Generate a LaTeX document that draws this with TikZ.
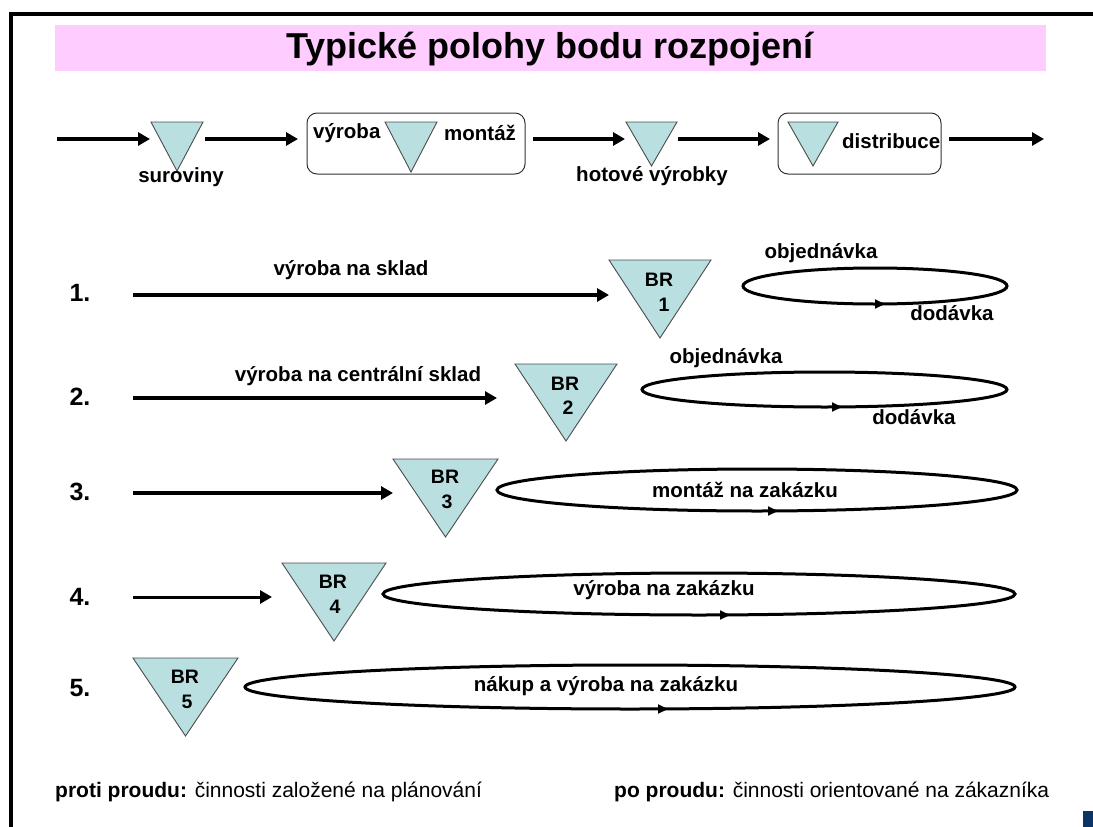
\documentclass[tikz,border=0pt]{standalone}
\usepackage{fontspec}
\setmainfont{Liberation Sans}
\usetikzlibrary{arrows.meta}

\definecolor{titlepink}{RGB}{255,204,255}
\definecolor{brfill}{RGB}{185,223,224}
\definecolor{cornerblue}{RGB}{12,52,100}

\tikzset{
  flow/.style={line width=4pt,-{Triangle[length=12pt,width=13pt]}},
  thinflow/.style={line width=3pt,-{Triangle[length=12pt,width=13pt]}},
  brtri/.style={fill=brfill,draw=black!70,line width=0.9pt,line join=miter},
  stagebox/.style={draw=black!80,line width=1pt,rounded corners=10pt},
  loopline/.style={line width=3pt},
  looptip/.style={line width=2pt,-{Triangle[length=10pt,width=9pt]}},
  lbl/.style={font=\fontsize{20.5}{24}\selectfont\bfseries,inner sep=0pt},
  brlbl/.style={font=\fontsize{19.5}{22}\selectfont\bfseries,inner sep=0pt},
  rownum/.style={font=\fontsize{25}{28}\selectfont\bfseries,inner sep=0pt}
}

% triangle: left x, top y, right x, apex y
\newcommand\brtriangle[4]{%
  \filldraw[brtri] (#1,#2) -- (#3,#2) -- ({(#1+#3)/2},#4) -- cycle;}
% loop: centre x, centre y, x radius, y radius, tip x
\newcommand\orderloop[5]{%
  \draw[loopline] (#1,#2) ellipse (#3pt and #4pt);
  \draw[looptip] ({#5-6},{#2+#4}) -- (#5,{#2+#4});}

\begin{document}
\begin{tikzpicture}[x=1pt,y=-1pt,line cap=butt]
  \useasboundingbox (0,0) rectangle (1093,827);
  % frame and title
  \draw[line width=4pt] (10.5,827) -- (10.5,13.5) -- (1093,13.5);
  \fill[cornerblue] (1083,811) rectangle (1093,827);
  \fill[titlepink] (55,25) rectangle (1046,71);
  \node[font=\fontsize{36}{40}\selectfont\bfseries,anchor=base,inner sep=0pt]
    (title) at (550,58) {Typické polohy bodu rozpojení};

  % chain on top
  \brtriangle{151}{122}{203}{171}
  \draw[stagebox] (307,113) rectangle (525,174);
  \brtriangle{385}{122}{437}{172}
  \brtriangle{626}{122}{677}{166}
  \draw[stagebox] (778,113) rectangle (941,174);
  \brtriangle{788}{122}{838}{166}
  \coordinate (c0) at (57,139);   \coordinate (c1) at (150,139);
  \coordinate (c2) at (205,139);  \coordinate (c3) at (298,139);
  \coordinate (c4) at (533,139);  \coordinate (c5) at (625,139);
  \coordinate (c6) at (678,139);  \coordinate (c7) at (770,139);
  \coordinate (c8) at (949,139);  \coordinate (c9) at (1044,139);
  \draw[flow] (c0) -- (c1);
  \draw[flow] (c2) -- (c3);
  \draw[flow] (c4) -- (c5);
  \draw[flow] (c6) -- (c7);
  \draw[flow] (c8) -- (c9);
  \node[lbl] (surov) at (181,177) {suroviny};
  \node[lbl,anchor=west] (vyr) at (313,133) {výroba};
  \node[lbl,anchor=west] (mont) at (444,133) {montáž};
  \node[lbl] (hotov) at (652,176) {hotové výrobky};
  \node[lbl,anchor=west] (distr) at (842,141) {distribuce};

  % 1.
  \node[rownum] (n1) at (80,293) {1.};
  \coordinate (a1) at (133,295); \coordinate (b1) at (609,295);
  \draw[flow] (a1) -- (b1);
  \node[lbl] (l1) at (351,270) {výroba na sklad};
  \brtriangle{609}{260}{711}{338}
  \node[brlbl] (br1) at (659,280) {BR};
  \node[brlbl] (k1) at (664,305) {1};
  \orderloop{875}{286}{132}{18}{885}
  \node[lbl] (obj1) at (821,253) {objednávka};
  \node[lbl] (dod1) at (952,313) {dodávka};

  % 2.
  \node[rownum] (n2) at (80,397) {2.};
  \coordinate (a2) at (133,398); \coordinate (b2) at (497,398);
  \draw[flow] (a2) -- (b2);
  \node[lbl] (l2) at (358,376) {výroba na centrální sklad};
  \brtriangle{515}{364}{617}{441}
  \node[brlbl] (br2) at (565,384) {BR};
  \node[brlbl] (k2) at (568,408) {2};
  \orderloop{824.5}{389.5}{182.5}{17.5}{842}
  \node[lbl] (obj2) at (726,358) {objednávka};
  \node[lbl] (dod2) at (914,417) {dodávka};

  % 3.
  \node[rownum] (n3) at (80,492) {3.};
  \coordinate (a3) at (133,493); \coordinate (b3) at (393,493);
  \draw[flow] (a3) -- (b3);
  \brtriangle{393}{459}{498}{537}
  \node[brlbl] (br3) at (445,477) {BR};
  \node[brlbl] (k3) at (447,502) {3};
  \orderloop{757}{490}{260}{21}{778}
  \node[lbl] (l3) at (745,490) {montáž na zakázku};

  % 4.
  \node[rownum] (n4) at (80,597) {4.};
  \coordinate (a4) at (133,597); \coordinate (b4) at (272,597);
  \draw[thinflow] (a4) -- (b4);
  \brtriangle{282}{563}{386}{641}
  \node[brlbl] (br4) at (333,582) {BR};
  \node[brlbl] (k4) at (335,607) {4};
  \orderloop{699}{594}{316}{21}{730}
  \node[lbl] (l4) at (664,590) {výroba na zakázku};

  % 5.
  \node[rownum] (n5) at (80,688) {5.};
  \brtriangle{133}{658}{238}{736}
  \node[brlbl] (br5) at (185,677) {BR};
  \node[brlbl] (k5) at (187,702) {5};
  \orderloop{630}{687}{385}{22}{668}
  \node[lbl] (l5) at (606,686) {nákup a výroba na zakázku};

  % bottom notes
  \node[font=\fontsize{21}{24}\selectfont,anchor=base west,inner sep=0pt]
    (up) at (55,797) {\textbf{proti proudu:} činnosti založené na plánování};
  \node[font=\fontsize{21}{24}\selectfont,anchor=base west,inner sep=0pt]
    (down) at (614,797) {\textbf{po proudu:} činnosti orientované na zákazníka};
\end{tikzpicture}
\end{document}
